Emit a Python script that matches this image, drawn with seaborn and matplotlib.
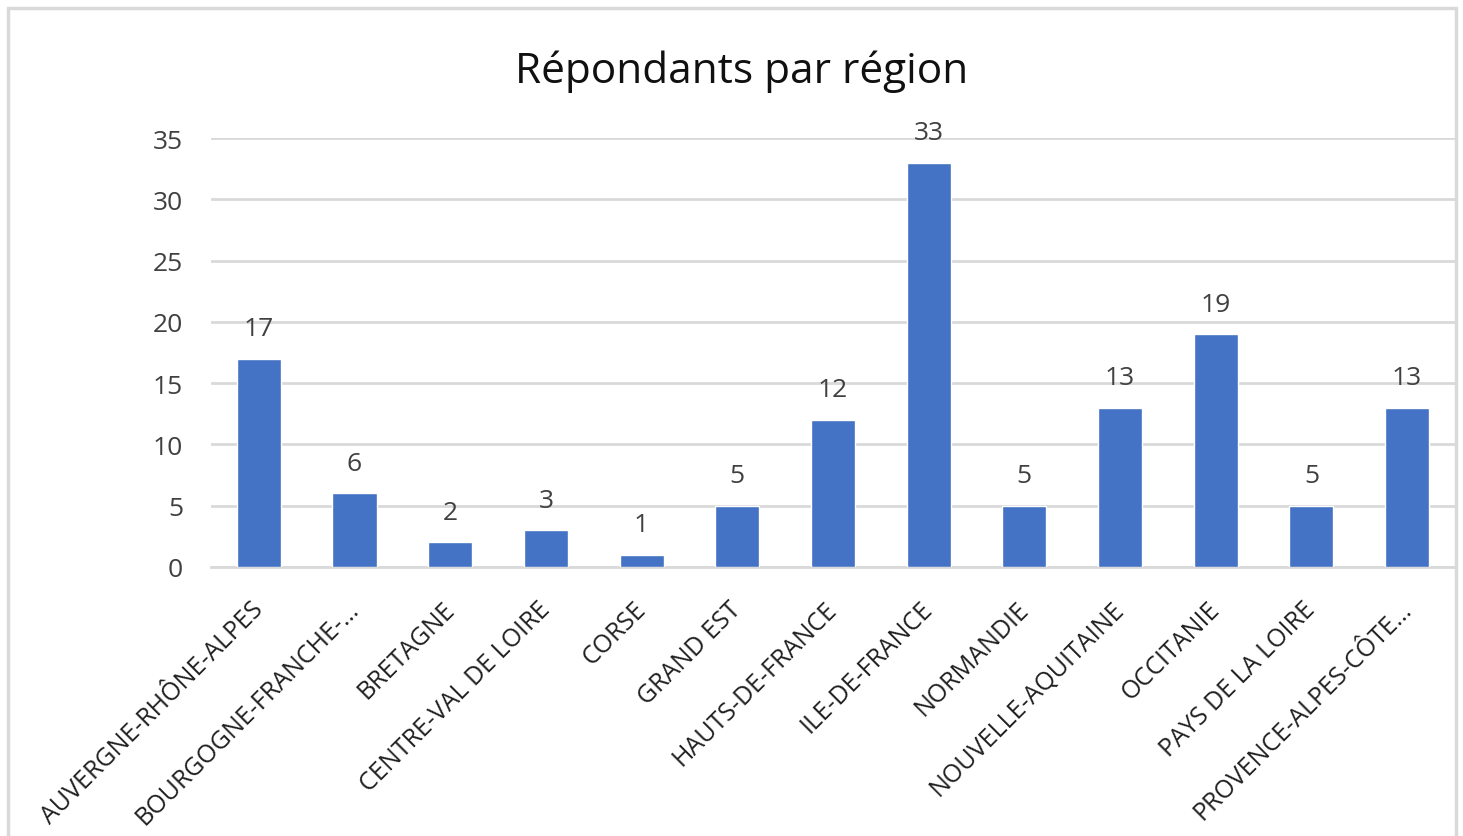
import pandas as pd
import seaborn as sns
import matplotlib.pyplot as plt
from matplotlib.patches import Rectangle
from matplotlib.transforms import ScaledTranslation

# Data
regions = ['AUVERGNE-RHÔNE-ALPES', 'BOURGOGNE-FRANCHE-…', 'BRETAGNE',
           'CENTRE-VAL DE LOIRE', 'CORSE', 'GRAND EST', 'HAUTS-DE-FRANCE',
           'ILE-DE-FRANCE', 'NORMANDIE', 'NOUVELLE-AQUITAINE', 'OCCITANIE',
           'PAYS DE LA LOIRE', 'PROVENCE-ALPES-CÔTE…']
counts = [17, 6, 2, 3, 1, 5, 12, 33, 5, 13, 19, 5, 13]
y_ticks = [0, 5, 10, 15, 20, 25, 30, 35]

df = pd.DataFrame({'region': regions, 'count': counts})

sns.set_theme(style='white')
plt.rcParams['font.family'] = ['Open Sans', 'DejaVu Sans']
text_color = '#404040'

fig = plt.figure(figsize=(14.63, 8.37), dpi=100)
ax = fig.add_axes([0.1442, 0.3214, 0.8503, 0.5125])

sns.barplot(data=df, x='region', y='count', color='#4472C4', width=0.46,
            saturation=1, ax=ax, zorder=3)

ax.set_ylim(0, 35)
ax.set_xlim(-0.5, len(regions) - 0.5)
ax.set_yticks(y_ticks)
ax.yaxis.grid(True, color='#d9d9d9', linewidth=2, zorder=0)
for side in ['top', 'right', 'left']:
    ax.spines[side].set_visible(False)
ax.spines['bottom'].set_color('#d9d9d9')
ax.spines['bottom'].set_linewidth(2)
ax.tick_params(axis='y', length=0, pad=20, labelsize=19, labelcolor=text_color)
ax.tick_params(axis='x', length=0, pad=14, labelsize=18, labelcolor='#202020')
shift = ScaledTranslation(-6 / 72, -7 / 72, fig.dpi_scale_trans)
for lbl in ax.get_xticklabels():
    lbl.set_rotation(45)
    lbl.set_ha('right')
    lbl.set_rotation_mode('anchor')
    lbl.set_transform(lbl.get_transform() + shift)
ax.set_xlabel('')
ax.set_ylabel('')

for i, v in enumerate(counts):
    ax.annotate(str(v), (i, v), xytext=(0, 17), textcoords='offset points',
                ha='center', va='baseline', fontsize=19, color=text_color)

fig.text(0.507, 0.914, 'Répondants par région', ha='center', va='center',
         fontsize=30.5, color='#101010')

# chart border
fig.patches.append(Rectangle((0.0055, -0.01), 0.99, 0.999, transform=fig.transFigure,
                             fill=False, edgecolor='#d9d9d9', linewidth=2.5))

fig.savefig('out.png', dpi=100)
